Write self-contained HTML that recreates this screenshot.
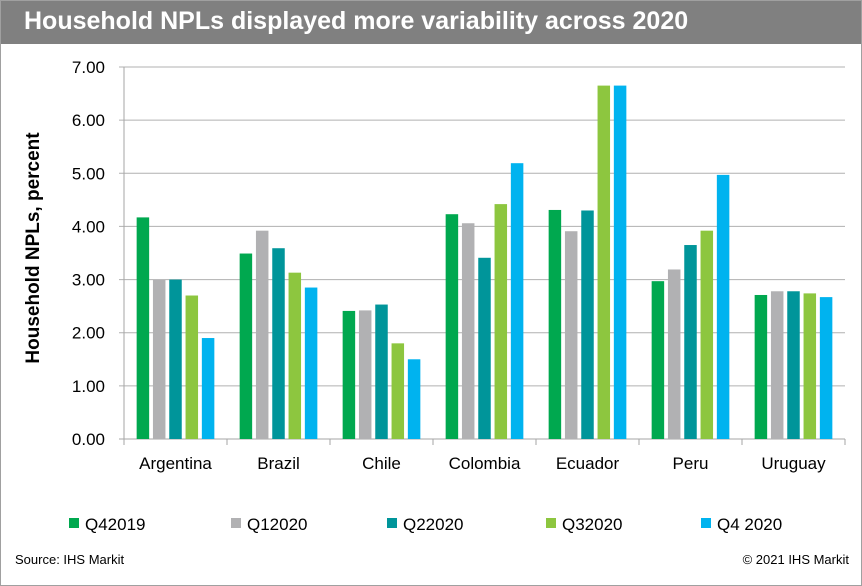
<!DOCTYPE html>
<html><head><meta charset="utf-8"><style>
body{margin:0;background:#fff;font-family:"Liberation Sans",Arial,sans-serif}
#wrap{position:relative;width:860px;height:584px;border:1px solid #a0a0a0;overflow:hidden}
#title{position:absolute;left:0;top:0;width:860px;height:43px;background:#808080;color:#fff;font-weight:bold;font-size:25px;line-height:40px;padding-left:23px;box-sizing:border-box;white-space:nowrap}
svg{position:absolute;left:0;top:0}
</style></head><body>
<div id="wrap">
<div id="title">Household NPLs displayed more variability across 2020</div>
<svg id="chart" width="862" height="586"></svg>
</div>
<script>
const categories=["Argentina","Brazil","Chile","Colombia","Ecuador","Peru","Uruguay"];
const seriesNames=["Q42019","Q12020","Q22020","Q32020","Q4 2020"];
const q42019=[4.17,3.49,2.41,4.23,4.31,2.97,2.71];
const q12020=[3.00,3.92,2.42,4.06,3.91,3.19,2.78];
const q22020=[3.00,3.59,2.53,3.41,4.30,3.65,2.78];
const q32020=[2.70,3.13,1.80,4.42,6.65,3.92,2.74];
const q42020=[1.90,2.85,1.50,5.19,6.65,4.97,2.67];
const yTicks=["0.00","1.00","2.00","3.00","4.00","5.00","6.00","7.00"];
const series=[q42019,q12020,q22020,q32020,q42020];
const colors=["#00a84f","#b1b1b3","#00959a","#8dc63f","#00b3ef"];
const NS="http://www.w3.org/2000/svg";
const svg=document.getElementById('chart');
const x0=123,x1=844,y0=438,yTop=66,yMax=7;
const cw=(x1-x0)/categories.length;
const y=v=>y0-(v/yMax)*(y0-yTop);
function mk(t,a){const e=document.createElementNS(NS,t);for(const k in a)e.setAttribute(k,a[k]);svg.appendChild(e);return e;}
yTicks.forEach((t,i)=>{const v=parseFloat(t);const yy=y(v);
 const g=mk('line',{x1:118,x2:x1,y1:yy,y2:yy,stroke:i===0?'#a6a6a6':'#b0b0b0','stroke-width':1});
 
 
 const tx=mk('text',{x:104,y:yy+6,'text-anchor':'end','font-size':17,fill:'#000'});tx.textContent=t;
 
 
});
const ax=mk('line',{x1:x0,x2:x0,y1:yTop,y2:y0,stroke:'#a6a6a6'});


for(let i=0;i<=categories.length;i++){const xx=x0+i*cw;
 const t=mk('line',{x1:xx,x2:xx,y1:y0,y2:y0+6,stroke:'#a6a6a6'});
 
 }
const step=16.3,bw=12.5;
categories.forEach((c,ci)=>{const cx=x0+cw*(ci+0.5);
 series.forEach((s,si)=>{const bx=cx-2*step-bw/2+si*step;const top=y(s[ci]);
  const r=mk('rect',{x:bx,y:top,width:bw,height:y0-top,fill:colors[si]});
  
  });
 const t=mk('text',{x:cx,y:468,'text-anchor':'middle','font-size':17,fill:'#000'});t.textContent=c;
 
 
});
const yt=mk('text',{x:0,y:0,transform:'translate(38,247) rotate(-90)','text-anchor':'middle','font-size':19,'font-weight':'bold',fill:'#000'});
yt.textContent='Household NPLs, percent';


const lx=[68,230,386,545,700];
seriesNames.forEach((n,i)=>{
 const r=mk('rect',{x:lx[i],y:517,width:10,height:10,fill:colors[i]});
 
 
 const t=mk('text',{x:lx[i]+16,y:529,'font-size':17,fill:'#000'});t.textContent=n;
 
 
});
const s1=mk('text',{x:14,y:563,'font-size':13,fill:'#000'});s1.textContent='Source: IHS Markit';


const s2=mk('text',{x:848,y:563,'font-size':13,fill:'#000','text-anchor':'end'});s2.textContent='© 2021 IHS Markit';


</script>
</body></html>
